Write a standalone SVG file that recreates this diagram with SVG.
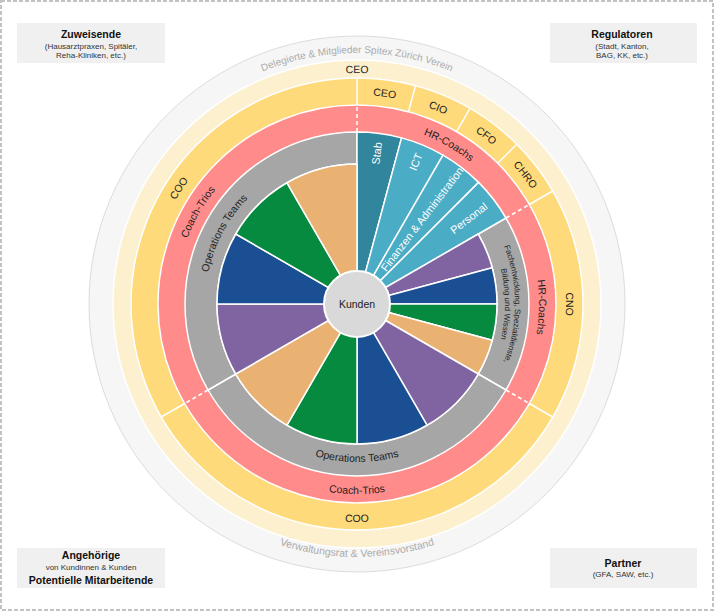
<svg xmlns="http://www.w3.org/2000/svg" xmlns:xlink="http://www.w3.org/1999/xlink" width="714" height="611" viewBox="0 0 714 611">
<style>
.t{font-family:"Liberation Sans",Arial,sans-serif}
.title{font-family:"Liberation Sans",Arial,sans-serif;font-weight:bold;font-size:10.5px;fill:#111;text-anchor:middle}
.sub{font-family:"Liberation Sans",Arial,sans-serif;font-size:8px;fill:#333;text-anchor:middle}
.box{fill:#F0F0F0}
.ring{font-family:"Liberation Sans",Arial,sans-serif;font-size:10.5px;fill:#222}
.staff{font-family:"Liberation Sans",Arial,sans-serif;font-size:11px;fill:#fff;text-anchor:middle}
.w{stroke:#fff;stroke-width:1.5;stroke-linejoin:round}
.sep{stroke:#fff;stroke-width:1.5}
.dash{stroke:#fff;stroke-width:1.5;stroke-dasharray:4 3}
</style>
<defs>
<path id="t251" d="M109.82,260.41 A251,251 0 0 1 604.18,260.41"/>
<path id="t231" d="M129.51,263.89 A231,231 0 0 1 584.49,263.89"/>
<path id="t209" d="M151.18,267.71 A209,209 0 0 1 562.82,267.71"/>
<path id="t182" d="M177.77,272.40 A182,182 0 0 1 536.23,272.40"/>
<path id="t152" d="M207.31,277.61 A152,152 0 0 1 506.69,277.61"/>
<path id="t158" d="M201.40,276.56 A158,158 0 0 1 512.60,276.56"/>
<path id="t148" d="M211.25,278.30 A148,148 0 0 1 502.75,278.30"/>
<path id="b253" d="M107.84,347.93 A253,253 0 0 0 606.16,347.93"/>
<path id="b218" d="M142.31,341.85 A218,218 0 0 0 571.69,341.85"/>
<path id="b190" d="M169.89,336.99 A190,190 0 0 0 544.11,336.99"/>
<path id="b158" d="M201.40,331.44 A158,158 0 0 0 512.60,331.44"/>
</defs>
<rect x="0" y="0" width="714" height="611" fill="#fff"/>
<rect x="1" y="1" width="712" height="609" fill="none" stroke="#C2C2C2" stroke-width="2" stroke-dasharray="4 2"/>

<g id="zuweisende">
<rect class="box" x="17" y="23" width="148" height="40"/>
<text class="title" x="91" y="38">Zuweisende</text>
<text class="sub" x="91" y="49">(Hausarztpraxen, Spitäler,</text>
<text class="sub" x="91" y="58">Reha-Kliniken, etc.)</text>
</g>
<g id="regulatoren">
<rect class="box" x="550" y="23" width="147" height="40"/>
<text class="title" x="622" y="38">Regulatoren</text>
<text class="sub" x="622" y="49">(Stadt, Kanton,</text>
<text class="sub" x="622" y="58">BAG, KK, etc.)</text>
</g>
<g id="angehoerige">
<rect class="box" x="17" y="548" width="148" height="40"/>
<text class="title" x="91" y="559">Angehörige</text>
<text class="sub" x="91" y="570">von Kundinnen &amp; Kunden</text>
<text class="title" x="91" y="584">Potentielle Mitarbeitende</text>
</g>
<g id="partner">
<rect class="box" x="550" y="548" width="147" height="40"/>
<text class="title" x="623" y="567">Partner</text>
<text class="sub" x="623" y="577">(GFA, SAW, etc.)</text>
</g>

<g id="ring-verein">
<circle cx="357" cy="304" r="268" fill="#F6F6F6" stroke="#DCDCDC" stroke-width="1"/>
<text class="t" font-size="10" fill="#ABABAB" text-anchor="middle"><textPath xlink:href="#t251" href="#t251" startOffset="50%">Delegierte &amp; Mitglieder Spitex Zürich Verein</textPath></text>
<text class="t" font-size="10.5" fill="#ABABAB" text-anchor="middle"><textPath xlink:href="#b253" href="#b253" startOffset="50%">Verwaltungsrat &amp; Vereinsvorstand</textPath></text>
</g>
<g id="ring-ceo">
<circle cx="357" cy="304" r="244" fill="#FCF0CF" stroke="#fff" stroke-width="1.5"/>
</g>
<g id="ring-geschaeftsleitung">
<circle cx="357" cy="304" r="226" fill="#FFDA7B" stroke="#fff" stroke-width="1.5"/>
</g>
<g id="ring-coaches">
<circle cx="357" cy="304" r="199" fill="#FF8B8B" stroke="#fff" stroke-width="1.5"/>
</g>
<g id="ring-teams">
<path class="w" fill="#A6A6A6" d="M505.96,218 A172,172 0 0 1 505.96,390 L478.24,374 A140,140 0 0 0 478.24,234 Z"/>
<path class="w" fill="#A6A6A6" d="M505.96,390 A172,172 0 0 1 208.04,390 L235.76,374 A140,140 0 0 0 478.24,374 Z"/>
<path class="w" fill="#A6A6A6" d="M208.04,390 A172,172 0 0 1 357,132 L357,164 A140,140 0 0 0 235.76,374 Z"/>
</g>
<g id="staff">
<path class="w" fill="#31859C" d="M357,304 L357,132 A172,172 0 0 1 401.52,137.86 Z"/>
<path class="w" fill="#4BACC6" d="M357,304 L401.52,137.86 A172,172 0 0 1 443,155.04 Z"/>
<path class="w" fill="#4BACC6" d="M357,304 L443,155.04 A172,172 0 0 1 478.62,182.38 Z"/>
<path class="w" fill="#4BACC6" d="M357,304 L478.62,182.38 A172,172 0 0 1 505.96,218 Z"/>
</g>
<g id="teams">
<path class="w" fill="#8064A2" d="M357,304 L478.24,234 A140,140 0 0 1 492.23,267.77 Z"/>
<path class="w" fill="#1B4F93" d="M357,304 L492.23,267.77 A140,140 0 0 1 497,304 Z"/>
<path class="w" fill="#058A3F" d="M357,304 L497,304 A140,140 0 0 1 492.23,340.23 Z"/>
<path class="w" fill="#E9B273" d="M357,304 L492.23,340.23 A140,140 0 0 1 478.24,374 Z"/>
<path class="w" fill="#8064A2" d="M357,304 L478.24,374 A140,140 0 0 1 427,425.24 Z"/>
<path class="w" fill="#1B4F93" d="M357,304 L427,425.24 A140,140 0 0 1 357,444 Z"/>
<path class="w" fill="#058A3F" d="M357,304 L357,444 A140,140 0 0 1 287,425.24 Z"/>
<path class="w" fill="#E9B273" d="M357,304 L287,425.24 A140,140 0 0 1 235.76,374 Z"/>
<path class="w" fill="#8064A2" d="M357,304 L235.76,374 A140,140 0 0 1 217,304 Z"/>
<path class="w" fill="#1B4F93" d="M357,304 L217,304 A140,140 0 0 1 235.76,234 Z"/>
<path class="w" fill="#058A3F" d="M357,304 L235.76,234 A140,140 0 0 1 287,182.76 Z"/>
<path class="w" fill="#E9B273" d="M357,304 L287,182.76 A140,140 0 0 1 357,164 Z"/>
</g>
<g id="connectors">
<line class="sep" x1="357" y1="105" x2="357" y2="78"/>
<line class="sep" x1="408.51" y1="111.78" x2="415.49" y2="85.70"/>
<line class="sep" x1="456.5" y1="131.66" x2="470" y2="108.28"/>
<line class="sep" x1="497.71" y1="163.29" x2="516.81" y2="144.19"/>
<line class="sep" x1="529.34" y1="204.5" x2="552.72" y2="191"/>
<line class="sep" x1="529.34" y1="403.5" x2="552.72" y2="417"/>
<line class="sep" x1="184.66" y1="403.5" x2="161.28" y2="417"/>
<line class="dash" x1="357" y1="132" x2="357" y2="105"/>
<line class="dash" x1="505.96" y1="218" x2="529.34" y2="204.5"/>
<line class="dash" x1="505.96" y1="390" x2="529.34" y2="403.5"/>
<line class="dash" x1="208.04" y1="390" x2="184.66" y2="403.5"/>
</g>
<g id="kunden">
<circle cx="357" cy="304" r="33" fill="#D9D9D9" stroke="#fff" stroke-width="2"/>
<text class="ring" x="357" y="308" text-anchor="middle">Kunden</text>
</g>
<g id="labels-ring" text-anchor="middle">
<text class="ring"><textPath xlink:href="#t231" href="#t231" startOffset="50%">CEO</textPath></text>
<g transform="rotate(7.5 357 304)"><text class="ring"><textPath xlink:href="#t209" href="#t209" startOffset="50%">CEO</textPath></text></g>
<g transform="rotate(22.5 357 304)"><text class="ring"><textPath xlink:href="#t209" href="#t209" startOffset="50%">CIO</textPath></text></g>
<g transform="rotate(37.5 357 304)"><text class="ring"><textPath xlink:href="#t209" href="#t209" startOffset="50%">CFO</textPath></text></g>
<g transform="rotate(52.5 357 304)"><text class="ring"><textPath xlink:href="#t209" href="#t209" startOffset="50%">CHRO</textPath></text></g>
<g transform="rotate(90 357 304)"><text class="ring"><textPath xlink:href="#t209" href="#t209" startOffset="50%">CNO</textPath></text></g>
<g transform="rotate(-57 357 304)"><text class="ring"><textPath xlink:href="#t209" href="#t209" startOffset="50%">COO</textPath></text></g>
<text class="ring"><textPath xlink:href="#b218" href="#b218" startOffset="50%">COO</textPath></text>
<g transform="rotate(30 357 304)"><text class="ring"><textPath xlink:href="#t182" href="#t182" startOffset="50%">HR-Coachs</textPath></text></g>
<g transform="rotate(91 357 304)"><text class="ring"><textPath xlink:href="#t182" href="#t182" startOffset="50%">HR-Coachs</textPath></text></g>
<g transform="rotate(-60 357 304)"><text class="ring"><textPath xlink:href="#t182" href="#t182" startOffset="50%">Coach-Trios</textPath></text></g>
<text class="ring"><textPath xlink:href="#b190" href="#b190" startOffset="50%">Coach-Trios</textPath></text>
<g transform="rotate(-62 357 304)"><text class="ring"><textPath xlink:href="#t152" href="#t152" startOffset="50%">Operations Teams</textPath></text></g>
<text class="ring"><textPath xlink:href="#b158" href="#b158" startOffset="50%">Operations Teams</textPath></text>
<g transform="rotate(90 357 304)">
<text class="t" font-size="8" fill="#222"><textPath xlink:href="#t158" href="#t158" startOffset="50%">Fachentwicklung, Spezialdienste,</textPath></text>
<text class="t" font-size="8" fill="#222"><textPath xlink:href="#t148" href="#t148" startOffset="50%">Bildung und Wissen</textPath></text>
</g>
</g>
<g id="labels-staff">
<text class="staff" x="376.84" y="153.30" dy="0.35em" transform="rotate(-82.5 376.84 153.30)">Stab</text>
<text class="staff" x="415.93" y="161.72" dy="0.35em" transform="rotate(-67.5 415.93 161.72)">ICT</text>
<text class="staff" x="422.14" y="219.11" dy="0.35em" font-size="9" transform="rotate(-52.5 422.14 219.11)">Finanzen &amp; Administration</text>
<text class="staff" x="468.86" y="218.16" dy="0.35em" transform="rotate(-37.5 468.86 218.16)">Personal</text>
</g>
</svg>
